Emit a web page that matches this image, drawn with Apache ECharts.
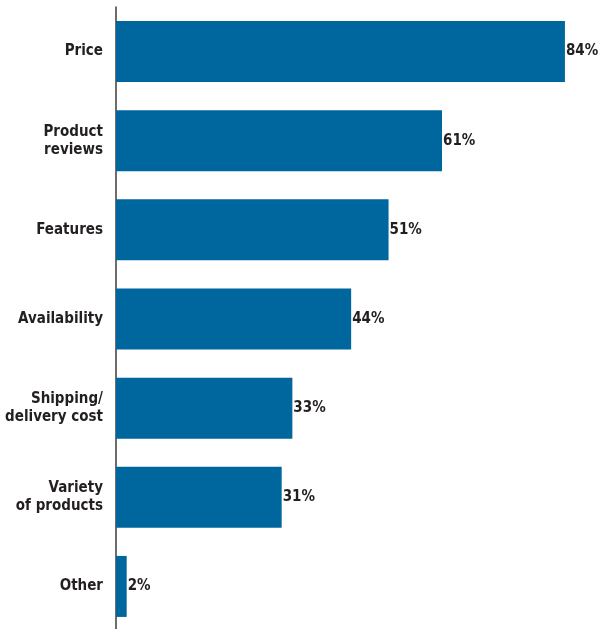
<!DOCTYPE html>
<html>
<head>
<meta charset="utf-8">
<style>
  html, body { margin: 0; padding: 0; background: #ffffff; }
  #chart { width: 600px; height: 629px; }
</style>
<script src="https://cdn.jsdelivr.net/npm/echarts@6/dist/echarts.min.js"></script>
</head>
<body>
<div id="chart"></div>
<script>
// Purchase factors, top to bottom
const categories = ['Price', 'Product\nreviews', 'Features', 'Availability', 'Shipping/\ndelivery cost', 'Variety\nof products', 'Other'];
const shares = [84, 61, 51, 44, 33, 31, 2];

const FONT = '"Liberation Sans Narrow", "DejaVu Sans Condensed", "Noto Sans", sans-serif';
const TEXT = '#231f20';

const chart = echarts.init(document.getElementById('chart'));
chart.setOption({
  animation: false,
  grid: { left: 116, right: 3, top: 7, bottom: -2, containLabel: false, outerBoundsMode: 'none' },
  xAxis: {
    type: 'value',
    min: 0,
    max: 90,
    show: false
  },
  yAxis: {
    type: 'category',
    data: categories,
    inverse: true,
    axisLine: { show: true, lineStyle: { color: '#3c3c3c', width: 1.5 } },
    axisTick: { show: false },
    splitLine: { show: false },
    axisLabel: {
      margin: 13,
      color: TEXT,
      fontFamily: FONT,
      fontWeight: 'bold',
      fontSize: 15,
      lineHeight: 18,
      align: 'right'
    }
  },
  series: [{
    type: 'bar',
    data: shares,
    barWidth: 61,
    itemStyle: { color: '#00669e' },
    label: {
      show: true,
      position: 'right',
      distance: 1,
      formatter: '{c}%',
      color: TEXT,
      fontFamily: FONT,
      fontWeight: 'bold',
      fontSize: 15
    },
    z: 1
  }]
});
</script>
</body>
</html>
